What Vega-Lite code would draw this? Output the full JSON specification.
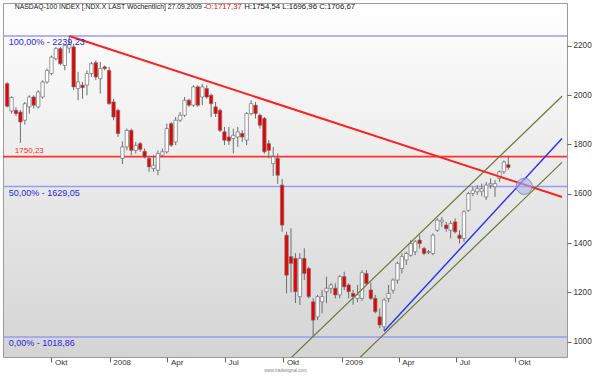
{
  "$schema": "https://vega.github.io/schema/vega-lite/v6.json",
  "width": 564,
  "height": 354,
  "autosize": {"type": "none"},
  "padding": {"left": 3, "top": 3, "right": 28, "bottom": 19},
  "background": "#ffffff",
  "config": {
    "view": {"stroke": "#9a9a9a", "strokeWidth": 1, "fill": {"gradient": "linear", "x1": 0, "y1": 0, "x2": 0, "y2": 1, "stops": [{"offset": 0, "color": "#ffffff"}, {"offset": 1, "color": "#d4d4d4"}]}},
    "font": "Liberation Sans"
  },
  "datasets": {
    "candles": [
      {"d":"2007-07-23","o":2046,"h":2052,"l":1950,"c":1955},
      {"d":"2007-07-30","o":1935,"h":1995,"l":1925,"c":1990},
      {"d":"2007-08-06","o":1938,"h":1950,"l":1915,"c":1925},
      {"d":"2007-08-13","o":1931,"h":1940,"l":1806,"c":1891},
      {"d":"2007-08-20","o":1898,"h":1972,"l":1880,"c":1965},
      {"d":"2007-08-27","o":1952,"h":1999,"l":1925,"c":1992},
      {"d":"2007-09-03","o":1992,"h":1999,"l":1945,"c":1959},
      {"d":"2007-09-10","o":1952,"h":2020,"l":1945,"c":2012},
      {"d":"2007-09-17","o":1992,"h":2060,"l":1985,"c":2053},
      {"d":"2007-09-24","o":2053,"h":2107,"l":2046,"c":2100},
      {"d":"2007-10-01","o":2087,"h":2160,"l":2080,"c":2154},
      {"d":"2007-10-08","o":2147,"h":2195,"l":2140,"c":2188},
      {"d":"2007-10-15","o":2188,"h":2195,"l":2120,"c":2127},
      {"d":"2007-10-22","o":2120,"h":2205,"l":2100,"c":2201},
      {"d":"2007-10-29","o":2190,"h":2239.23,"l":2170,"c":2205},
      {"d":"2007-11-05","o":2195,"h":2200,"l":2020,"c":2033},
      {"d":"2007-11-12","o":2026,"h":2094,"l":1979,"c":2053},
      {"d":"2007-11-19","o":2040,"h":2053,"l":1985,"c":2030},
      {"d":"2007-11-26","o":2040,"h":2100,"l":1999,"c":2087},
      {"d":"2007-12-03","o":2087,"h":2134,"l":2073,"c":2127},
      {"d":"2007-12-10","o":2131,"h":2140,"l":2060,"c":2073},
      {"d":"2007-12-17","o":2066,"h":2134,"l":2006,"c":2107},
      {"d":"2007-12-24","o":2114,"h":2120,"l":2100,"c":2107},
      {"d":"2007-12-31","o":2100,"h":2114,"l":1960,"c":1965},
      {"d":"2008-01-07","o":1972,"h":1985,"l":1898,"c":1911},
      {"d":"2008-01-14","o":1938,"h":1945,"l":1830,"c":1844},
      {"d":"2008-01-21","o":1743,"h":1812,"l":1720,"c":1790},
      {"d":"2008-01-28","o":1790,"h":1864,"l":1776,"c":1857},
      {"d":"2008-02-04","o":1857,"h":1864,"l":1756,"c":1776},
      {"d":"2008-02-11","o":1776,"h":1810,"l":1763,"c":1796},
      {"d":"2008-02-18","o":1803,"h":1810,"l":1770,"c":1780},
      {"d":"2008-02-25","o":1772,"h":1783,"l":1743,"c":1749},
      {"d":"2008-03-03","o":1743,"h":1749,"l":1689,"c":1709},
      {"d":"2008-03-10","o":1702,"h":1756,"l":1689,"c":1716},
      {"d":"2008-03-17","o":1695,"h":1776,"l":1675,"c":1763},
      {"d":"2008-03-24","o":1756,"h":1783,"l":1749,"c":1770},
      {"d":"2008-03-31","o":1770,"h":1884,"l":1763,"c":1864},
      {"d":"2008-04-07","o":1884,"h":1891,"l":1790,"c":1797},
      {"d":"2008-04-14","o":1810,"h":1911,"l":1797,"c":1898},
      {"d":"2008-04-21","o":1898,"h":1931,"l":1891,"c":1918},
      {"d":"2008-04-28","o":1918,"h":1992,"l":1911,"c":1979},
      {"d":"2008-05-05","o":1979,"h":1985,"l":1952,"c":1959},
      {"d":"2008-05-12","o":1959,"h":2040,"l":1952,"c":2033},
      {"d":"2008-05-19","o":2033,"h":2040,"l":1952,"c":1959},
      {"d":"2008-05-26","o":1992,"h":2046,"l":1959,"c":2033},
      {"d":"2008-06-02","o":2026,"h":2040,"l":1985,"c":1992},
      {"d":"2008-06-09","o":1999,"h":2006,"l":1911,"c":1965},
      {"d":"2008-06-16","o":1952,"h":1972,"l":1911,"c":1925},
      {"d":"2008-06-23","o":1938,"h":1945,"l":1850,"c":1857},
      {"d":"2008-06-30","o":1851,"h":1871,"l":1797,"c":1817},
      {"d":"2008-07-07","o":1830,"h":1871,"l":1797,"c":1814},
      {"d":"2008-07-14","o":1824,"h":1864,"l":1763,"c":1837},
      {"d":"2008-07-21","o":1830,"h":1871,"l":1790,"c":1851},
      {"d":"2008-07-28","o":1844,"h":1857,"l":1810,"c":1830},
      {"d":"2008-08-04","o":1817,"h":1931,"l":1797,"c":1925},
      {"d":"2008-08-11","o":1925,"h":1979,"l":1918,"c":1965},
      {"d":"2008-08-18","o":1959,"h":1972,"l":1905,"c":1925},
      {"d":"2008-08-25","o":1918,"h":1925,"l":1864,"c":1878},
      {"d":"2008-09-01","o":1905,"h":1911,"l":1763,"c":1770},
      {"d":"2008-09-08","o":1803,"h":1817,"l":1743,"c":1776},
      {"d":"2008-09-15","o":1722,"h":1790,"l":1672,"c":1749},
      {"d":"2008-09-22","o":1743,"h":1763,"l":1640,"c":1675},
      {"d":"2008-09-29","o":1635,"h":1660,"l":1446,"c":1473},
      {"d":"2008-10-06","o":1432,"h":1446,"l":1196,"c":1270},
      {"d":"2008-10-13","o":1345,"h":1460,"l":1200,"c":1318},
      {"d":"2008-10-20","o":1338,"h":1359,"l":1157,"c":1203},
      {"d":"2008-10-27","o":1183,"h":1359,"l":1149,"c":1338},
      {"d":"2008-11-03","o":1338,"h":1379,"l":1250,"c":1277},
      {"d":"2008-11-10","o":1297,"h":1304,"l":1176,"c":1183},
      {"d":"2008-11-17","o":1162,"h":1176,"l":1018.86,"c":1088},
      {"d":"2008-11-24","o":1101,"h":1190,"l":1088,"c":1183},
      {"d":"2008-12-01","o":1162,"h":1210,"l":1115,"c":1183},
      {"d":"2008-12-08","o":1203,"h":1264,"l":1156,"c":1217},
      {"d":"2008-12-15","o":1217,"h":1237,"l":1196,"c":1230},
      {"d":"2008-12-22","o":1217,"h":1237,"l":1176,"c":1190},
      {"d":"2008-12-29","o":1190,"h":1270,"l":1176,"c":1264},
      {"d":"2009-01-05","o":1264,"h":1284,"l":1210,"c":1223},
      {"d":"2009-01-12","o":1230,"h":1237,"l":1176,"c":1203},
      {"d":"2009-01-19","o":1196,"h":1210,"l":1150,"c":1183},
      {"d":"2009-01-26","o":1176,"h":1230,"l":1160,"c":1190},
      {"d":"2009-02-02","o":1176,"h":1290,"l":1165,"c":1280},
      {"d":"2009-02-09","o":1277,"h":1290,"l":1230,"c":1236},
      {"d":"2009-02-16","o":1210,"h":1240,"l":1170,"c":1176},
      {"d":"2009-02-23","o":1176,"h":1190,"l":1115,"c":1122},
      {"d":"2009-03-02","o":1101,"h":1135,"l":1055,"c":1068},
      {"d":"2009-03-09","o":1061,"h":1176,"l":1043,"c":1169},
      {"d":"2009-03-16","o":1176,"h":1230,"l":1160,"c":1196},
      {"d":"2009-03-23","o":1209,"h":1257,"l":1196,"c":1250},
      {"d":"2009-03-30","o":1250,"h":1324,"l":1236,"c":1318},
      {"d":"2009-04-06","o":1297,"h":1358,"l":1277,"c":1345},
      {"d":"2009-04-13","o":1331,"h":1365,"l":1311,"c":1358},
      {"d":"2009-04-20","o":1351,"h":1412,"l":1345,"c":1398},
      {"d":"2009-04-27","o":1365,"h":1412,"l":1351,"c":1405},
      {"d":"2009-05-04","o":1412,"h":1432,"l":1378,"c":1398},
      {"d":"2009-05-11","o":1378,"h":1385,"l":1351,"c":1358},
      {"d":"2009-05-18","o":1362,"h":1372,"l":1355,"c":1365},
      {"d":"2009-05-25","o":1358,"h":1439,"l":1351,"c":1432},
      {"d":"2009-06-01","o":1452,"h":1500,"l":1446,"c":1493},
      {"d":"2009-06-08","o":1486,"h":1506,"l":1466,"c":1493},
      {"d":"2009-06-15","o":1473,"h":1486,"l":1446,"c":1459},
      {"d":"2009-06-22","o":1452,"h":1490,"l":1419,"c":1479},
      {"d":"2009-06-29","o":1486,"h":1500,"l":1439,"c":1446},
      {"d":"2009-07-06","o":1432,"h":1452,"l":1398,"c":1419},
      {"d":"2009-07-13","o":1419,"h":1533,"l":1405,"c":1527},
      {"d":"2009-07-20","o":1533,"h":1608,"l":1527,"c":1601},
      {"d":"2009-07-27","o":1601,"h":1628,"l":1590,"c":1614},
      {"d":"2009-08-03","o":1608,"h":1635,"l":1595,"c":1621},
      {"d":"2009-08-10","o":1610,"h":1641,"l":1590,"c":1620},
      {"d":"2009-08-17","o":1587,"h":1648,"l":1575,"c":1635},
      {"d":"2009-08-24","o":1635,"h":1662,"l":1621,"c":1641},
      {"d":"2009-08-31","o":1628,"h":1655,"l":1587,"c":1641},
      {"d":"2009-09-07","o":1662,"h":1695,"l":1648,"c":1689},
      {"d":"2009-09-14","o":1689,"h":1735,"l":1680,"c":1729},
      {"d":"2009-09-21","o":1717.37,"h":1754.54,"l":1696.96,"c":1706.67}
    ],
    "fib": [
      {"d":"2007-07-25T10:00:00Z","v":2239.23,"label":"100,00% - 2239,23"},
      {"d":"2007-07-25T10:00:00Z","v":1629.05,"label":"50,00% - 1629,05"},
      {"d":"2007-07-25T10:00:00Z","v":1018.86,"label":"0,00% - 1018,86"}
    ],
    "level": [
      {"d":"2007-08-04T06:00:00Z","v":1750.23,"label":"1750,23"}
    ],
    "lines": [
      {"id":"red","d":"2007-10-29","v":2239.23},
      {"id":"red","d":"2009-12-14T16:40:00Z","v":1587},
      {"id":"blue","d":"2009-03-09","v":1043},
      {"id":"blue","d":"2009-12-14T16:40:00Z","v":1824},
      {"id":"g1","d":"2008-09-28T22:00:00Z","v":900},
      {"id":"g1","d":"2009-12-14T16:40:00Z","v":1995},
      {"id":"g2","d":"2009-01-15T02:00:00Z","v":900},
      {"id":"g2","d":"2009-12-14T16:40:00Z","v":1727}
    ],
    "mark": [
      {"d":"2009-10-16","v":1630}
    ],
    "hdr": [
      {"d":"2007-08-04T06:00:00Z","v":2356,"t":"NASDAQ-100 INDEX [.NDX.X LAST Wöchentlich] 27.09.2009 -"}
    ],
    "hdrO": [
      {"d":"2008-05-31T00:00:00Z","v":2356,"t":"O:1717,37"}
    ],
    "hdrHLC": [
      {"d":"2008-07-31T02:00:00Z","v":2356,"t":"H:1754,54 L:1696,96 C:1706,67"}
    ]
  },
  "layer": [
    {
      "data": {"name": "fib"},
      "mark": {"type": "rule", "color": "#9a9af4", "strokeWidth": 1.5},
      "encoding": {
        "y": {"field": "v", "type": "quantitative", "scale": {"domain": [938.3, 2373], "nice": false, "zero": false},
          "axis": {"orient": "right", "values": [1000,1100,1200,1300,1400,1500,1600,1700,1800,1900,2000,2100,2200,2300], "format": "d", "tickSize": 4, "tickColor": "#666", "domain": false, "grid": false, "labelFont": "Liberation Sans", "labelFontSize": 8.2, "labelColor": "#333", "labelPadding": 2, "title": null}}
      }
    },
    {
      "data": {"name": "level"},
      "mark": {"type": "rule", "color": "#ff3030", "strokeWidth": 1.6},
      "encoding": {"y": {"field": "v", "type": "quantitative"}}
    },
    {
      "data": {"name": "candles"},
      "mark": {"type": "rule", "color": "#6e6e6e", "strokeWidth": 1},
      "encoding": {
        "x": {"field": "d", "type": "temporal",
          "scale": {"type": "utc", "nice": false, "domain": [{"year": 2007, "month": 7, "date": 24, "hours": 9, "minutes": 40, "utc": true}, {"year": 2009, "month": 12, "date": 14, "hours": 16, "minutes": 40, "utc": true}]},
          "axis": {"orient": "bottom", "values": [
              {"year": 2007, "month": 10, "date": 1, "utc": true},
              {"year": 2008, "month": 1, "date": 1, "utc": true},
              {"year": 2008, "month": 4, "date": 1, "utc": true},
              {"year": 2008, "month": 7, "date": 1, "utc": true},
              {"year": 2008, "month": 10, "date": 1, "utc": true},
              {"year": 2009, "month": 1, "date": 1, "utc": true},
              {"year": 2009, "month": 4, "date": 1, "utc": true},
              {"year": 2009, "month": 7, "date": 1, "utc": true},
              {"year": 2009, "month": 10, "date": 1, "utc": true}],
            "labelExpr": "utcmonth(datum.value) == 0 ? utcFormat(datum.value, '%Y') : ['Jan','Feb','Mär','Apr','Mai','Jun','Jul','Aug','Sep','Okt','Nov','Dez'][utcmonth(datum.value)]",
            "labelAlign": "left", "labelOffset": 3, "labelPadding": -4, "offset": 0, "tickSize": 5, "tickColor": "#666",
            "domain": false, "grid": false, "labelFont": "Liberation Sans", "labelFontSize": 8, "labelColor": "#333",
            "title": "www.tradesignal.com", "titleFontSize": 4.5, "titleFontWeight": "normal", "titleColor": "#888", "titlePadding": 1}},
        "y": {"field": "l", "type": "quantitative"},
        "y2": {"field": "h"}
      }
    },
    {
      "data": {"name": "candles"},
      "mark": {"type": "bar", "stroke": "#6e6e6e", "strokeWidth": 0.7},
      "encoding": {
        "x": {"field": "d", "type": "temporal"},
        "y": {"field": "o", "type": "quantitative"},
        "y2": {"field": "c"},
        "size": {"value": 3.4},
        "fill": {"condition": {"test": "datum.c >= datum.o", "value": "#ffffff"}, "value": "#ee0000"}
      }
    },
    {
      "data": {"name": "lines"},
      "transform": [{"filter": "datum.id == 'red'"}],
      "mark": {"type": "line", "color": "#ff2020", "strokeWidth": 2, "clip": true},
      "encoding": {"x": {"field": "d", "type": "temporal"}, "y": {"field": "v", "type": "quantitative"}}
    },
    {
      "data": {"name": "lines"},
      "transform": [{"filter": "datum.id == 'g1' || datum.id == 'g2'"}],
      "mark": {"type": "line", "color": "#6b7a3a", "strokeWidth": 1.2, "clip": true},
      "encoding": {"x": {"field": "d", "type": "temporal"}, "y": {"field": "v", "type": "quantitative"}, "detail": {"field": "id"}}
    },
    {
      "data": {"name": "lines"},
      "transform": [{"filter": "datum.id == 'blue'"}],
      "mark": {"type": "line", "color": "#2a2aff", "strokeWidth": 1.4, "clip": true},
      "encoding": {"x": {"field": "d", "type": "temporal"}, "y": {"field": "v", "type": "quantitative"}}
    },
    {
      "data": {"name": "mark"},
      "mark": {"type": "point", "shape": "circle", "filled": true, "size": 260, "fill": "#a8b2ee", "fillOpacity": 0.6, "stroke": "#8888aa", "strokeWidth": 1, "strokeOpacity": 0.9},
      "encoding": {"x": {"field": "d", "type": "temporal"}, "y": {"field": "v", "type": "quantitative"}}
    },
    {
      "data": {"name": "fib"},
      "mark": {"type": "text", "align": "left", "baseline": "middle", "dy": 6, "font": "Liberation Sans", "fontSize": 9, "color": "#2525e0"},
      "encoding": {"x": {"field": "d", "type": "temporal"}, "y": {"field": "v", "type": "quantitative"}, "text": {"field": "label"}}
    },
    {
      "data": {"name": "level"},
      "mark": {"type": "text", "align": "left", "baseline": "middle", "dy": -6, "font": "Liberation Sans", "fontSize": 8, "color": "#ff2a2a"},
      "encoding": {"x": {"field": "d", "type": "temporal"}, "y": {"field": "v", "type": "quantitative"}, "text": {"field": "label"}}
    },
    {
      "data": {"name": "hdr"},
      "mark": {"type": "text", "align": "left", "baseline": "middle", "font": "Liberation Sans", "fontSize": 6.8, "color": "#111"},
      "encoding": {"x": {"field": "d", "type": "temporal"}, "y": {"field": "v", "type": "quantitative"}, "text": {"field": "t"}}
    },
    {
      "data": {"name": "hdrO"},
      "mark": {"type": "text", "align": "left", "baseline": "middle", "font": "Liberation Sans", "fontSize": 7.8, "color": "#ee1111"},
      "encoding": {"x": {"field": "d", "type": "temporal"}, "y": {"field": "v", "type": "quantitative"}, "text": {"field": "t"}}
    },
    {
      "data": {"name": "hdrHLC"},
      "mark": {"type": "text", "align": "left", "baseline": "middle", "font": "Liberation Sans", "fontSize": 7.8, "color": "#111"},
      "encoding": {"x": {"field": "d", "type": "temporal"}, "y": {"field": "v", "type": "quantitative"}, "text": {"field": "t"}}
    }
  ]
}
